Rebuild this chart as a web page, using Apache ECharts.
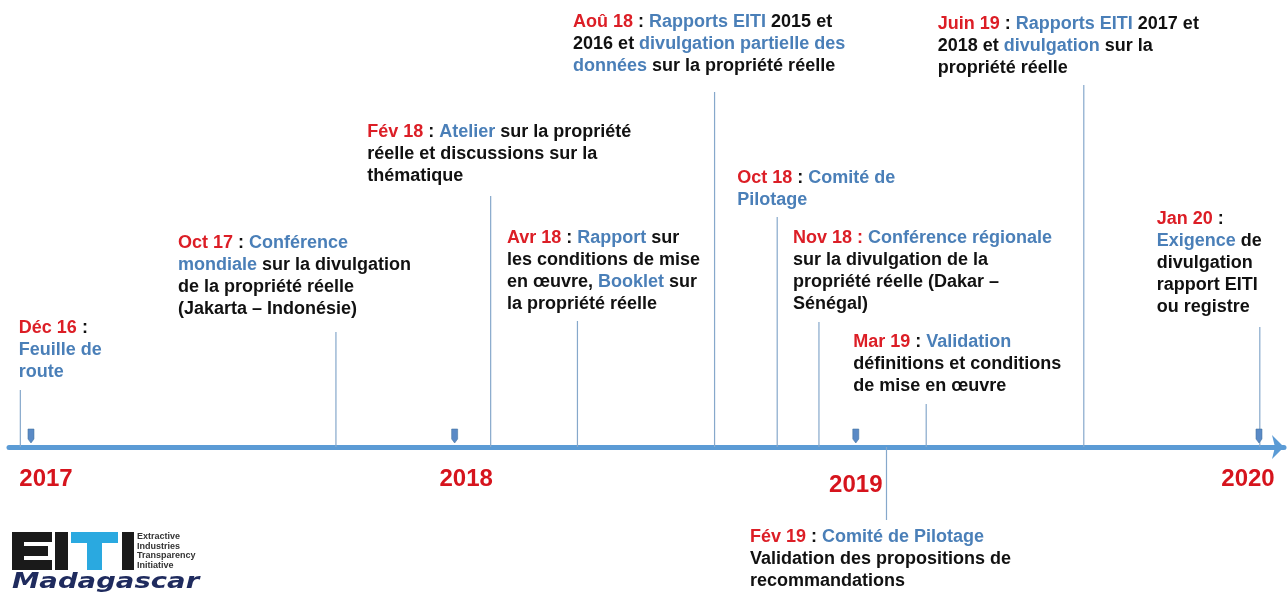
<!DOCTYPE html>
<html>
<head>
<meta charset="utf-8">
<script src="https://cdn.jsdelivr.net/npm/echarts@6/dist/echarts.min.js"></script>
<style>
  html, body { margin: 0; padding: 0; background: #ffffff; }
  #timeline { width: 1287px; height: 592px; }
</style>
</head>
<body>
<div id="timeline"></div>
<script>
// events on the timeline (position in decimal years, stem length in px above the arrow)
const eventDates = ['Déc 16', 'Oct 17', 'Fév 18', 'Avr 18', 'Aoû 18', 'Oct 18', 'Nov 18', 'Fév 19', 'Mar 19', 'Juin 19', 'Jan 20'];
const eventPos = [2016.974, 2017.745, 2018.123, 2018.335, 2018.670, 2018.823, 2018.925, 2019.090, 2019.187, 2019.572, 2020.002];
const stemHeight = [57, 115, 251, 126, 355, 230, 125, -73, 43, 362, 120];
const eventText = [
  ' :\n{k|Feuille de}\n{k|route}',
  ' : {k|Conférence}\n{k|mondiale} sur la divulgation\nde la propriété réelle\n(Jakarta – Indonésie)',
  ' : {k|Atelier} sur la propriété\nréelle et discussions sur la\nthématique',
  ' : {k|Rapport} sur\nles conditions de mise\nen œuvre, {k|Booklet} sur\nla propriété réelle',
  ' : {k|Rapports EITI} 2015 et\n2016 et {k|divulgation partielle des}\n{k|données} sur la propriété réelle',
  ' : {k|Comité de}\n{k|Pilotage}',
  '{d| :} {k|Conférence régionale}\nsur la divulgation de la\npropriété réelle (Dakar –\nSénégal)',
  ' : {k|Comité de Pilotage}\nValidation des propositions de\nrecommandations',
  ' : {k|Validation}\ndéfinitions et conditions\nde mise en œuvre',
  ' : {k|Rapports EITI} 2017 et\n2018 et {k|divulgation} sur la\npropriété réelle',
  ' :\n{k|Exigence} de\ndivulgation\nrapport EITI\nou registre'
];

// year marks on the arrow
const yearLabels = ['2017', '2018', '2019', '2020'];
const yearPos = [2017, 2018.035, 2019.015, 2020];

// layout: where each text block sits relative to the top of its stem (px)
const labelOffset = [
  [-1.5, -73], [-158, -100], [-123.5, -75], [-70.5, -94], [-141.5, -81], [-40, -50],
  [-26, -95], [-136.5, 6], [-73, -73], [-146, -72], [-103, -119]
];
const yearLabelOffset = [[15, 32], [11.5, 32], [0, 38], [-11, 32]];

const RED = '#dc1e26';
const BLUE = '#4a7fb8';
const FONT = '"Liberation Sans", Arial, sans-serif';

let chart = echarts.init(document.getElementById('timeline'));

let option = {
  backgroundColor: '#ffffff',
  animation: false,
  grid: { left: 9, right: 3, top: 0, bottom: 0 },
  xAxis: {
    type: 'value',
    min: 2016.9463,
    max: 2020.0611,
    axisLine: {
      show: true,
      onZero: true,
      symbol: ['none', 'arrow'],
      symbolSize: [18, 12],
      lineStyle: { color: '#5b9bd5', width: 5 }
    },
    axisTick: { show: false },
    axisLabel: { show: false },
    splitLine: { show: false }
  },
  yAxis: {
    type: 'value',
    min: -145,
    max: 447,
    axisLine: { show: false },
    axisTick: { show: false },
    axisLabel: { show: false },
    splitLine: { show: false }
  },
  graphic: [
    // EITI Madagascar logo
    { type: 'rect', shape: { x: 12, y: 532, width: 12, height: 38 }, style: { fill: '#1a1a1a' } },
    { type: 'rect', shape: { x: 12, y: 532, width: 40, height: 10 }, style: { fill: '#1a1a1a' } },
    { type: 'rect', shape: { x: 12, y: 546, width: 36, height: 10 }, style: { fill: '#1a1a1a' } },
    { type: 'rect', shape: { x: 12, y: 560, width: 40, height: 10 }, style: { fill: '#1a1a1a' } },
    { type: 'rect', shape: { x: 55, y: 532, width: 13, height: 38 }, style: { fill: '#1a1a1a' } },
    { type: 'rect', shape: { x: 71, y: 532, width: 47, height: 11 }, style: { fill: '#2aa9e0' } },
    { type: 'rect', shape: { x: 87, y: 532, width: 15, height: 38 }, style: { fill: '#2aa9e0' } },
    { type: 'rect', shape: { x: 122, y: 532, width: 12, height: 38 }, style: { fill: '#1a1a1a' } },
    {
      type: 'text', x: 137, y: 532,
      style: {
        text: 'Extractive\nIndustries\nTransparency\nInitiative',
        font: 'bold 9px ' + FONT, lineHeight: 9.5, fill: '#333333', verticalAlign: 'top'
      }
    },
    {
      type: 'text', x: 12, y: 571, scaleX: 1.25,
      style: {
        text: 'Madagascar',
        font: 'italic bold 22px "DejaVu Sans", sans-serif', fill: '#1f2b5e', verticalAlign: 'top'
      }
    }
  ],
  series: [
    {
      name: 'events',
      type: 'custom',
      data: eventPos.map((x, i) => [x, stemHeight[i]]),
      renderItem: function (params, api) {
        let i = params.dataIndex;
        let p0 = api.coord([api.value(0), 0]);
        let p1 = api.coord([api.value(0), api.value(1)]);
        let off = labelOffset[i];
        return {
          type: 'group',
          children: [
            {
              type: 'line',
              shape: { x1: p0[0], y1: p0[1], x2: p1[0], y2: p1[1] },
              style: { stroke: '#86a8cb', lineWidth: 1.2 }
            },
            {
              type: 'text',
              style: {
                x: p1[0] + off[0],
                y: p1[1] + off[1],
                text: '{d|' + eventDates[i] + '}' + eventText[i],
                font: 'bold 18px ' + FONT,
                fill: '#111111',
                lineHeight: 22,
                align: 'left',
                verticalAlign: 'top',
                rich: {
                  d: { fill: RED, font: 'bold 18px ' + FONT, lineHeight: 22 },
                  k: { fill: BLUE, font: 'bold 18px ' + FONT, lineHeight: 22 }
                }
              }
            }
          ]
        };
      },
      z: 1
    },
    {
      name: 'yearMarks',
      type: 'scatter',
      symbol: 'path://M0,0 L6,0 L6,10 L3,14 L0,10 Z',
      symbolSize: [6, 14],
      symbolOffset: [0, -11],
      itemStyle: { color: '#5a8ac6', borderColor: '#41719c', borderWidth: 0.5, opacity: 1 },
      data: yearPos.map(x => [x, 0]),
      z: 3
    },
    {
      name: 'years',
      type: 'scatter',
      symbolSize: 1,
      itemStyle: { color: 'transparent', opacity: 1 },
      label: {
        show: true,
        position: 'inside',
        formatter: p => yearLabels[p.dataIndex],
        color: '#d6141d',
        textBorderWidth: 0,
        opacity: 1,
        fontFamily: FONT,
        fontWeight: 'bold',
        fontSize: 24
      },
      data: yearPos.map((x, i) => ({ value: [x, 0], label: { offset: yearLabelOffset[i] } })),
      z: 3
    }
  ]
};

chart.setOption(option);
window.addEventListener('resize', () => {
  chart.resize();
});
</script>
</body>
</html>
